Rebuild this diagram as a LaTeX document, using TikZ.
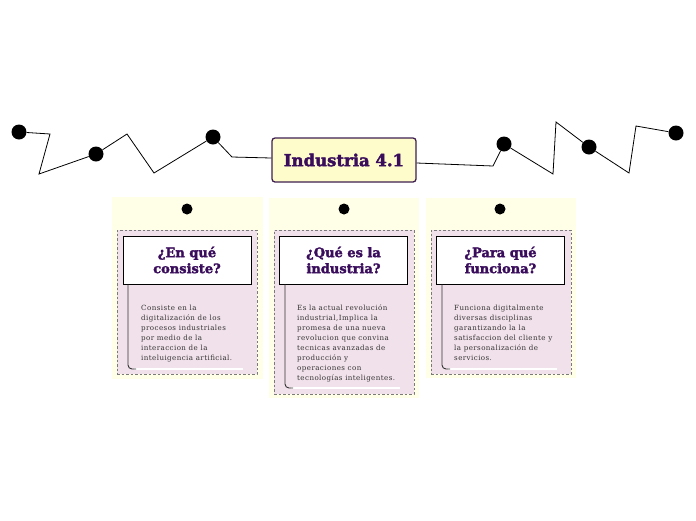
\documentclass[tikz,border=0pt]{standalone}
\usepackage{fontspec}
\setmainfont{DejaVu Serif}[LetterSpace=6]
\newfontfamily\titlefont{DejaVu Serif}[BoldFeatures={FakeBold=2.2}]
\definecolor{bgyellow}{HTML}{FFFEE6}
\definecolor{mainfill}{HTML}{FFFCCC}
\definecolor{purpleline}{HTML}{3E1F50}
\definecolor{titlepurple}{HTML}{3A0D5C}
\definecolor{pinkc}{HTML}{F1E1EA}
\definecolor{bodygray}{HTML}{333333}
\definecolor{dashgray}{HTML}{7A7A7A}
\begin{document}
\begin{tikzpicture}[x=1pt,y=-1pt,
  bigdot/.style={circle,fill=black,inner sep=0pt,minimum size=15pt},
  smalldot/.style={circle,fill=black,inner sep=0pt,minimum size=11pt},
  link/.style={draw=black,line width=0.8pt},
  mainbox/.style={draw=purpleline,fill=mainfill,line width=1.3pt,rounded corners=3pt,minimum width=144pt,minimum height=44pt,inner sep=0pt,font=\titlefont\bfseries\fontsize{16.5}{18}\selectfont,text=titlepurple},
  colbg/.style={fill=bgyellow,draw=none,inner sep=0pt},
  pinkbox/.style={fill=pinkc,draw=dashgray,dash pattern=on 2.5pt off 2pt,line width=0.6pt,inner sep=0pt},
  titlebox/.style={draw=black,fill=white,line width=0.9pt,minimum width=128pt,minimum height=48pt,inner sep=0pt,align=center,font=\titlefont\bfseries\fontsize{13}{16}\selectfont,text=titlepurple},
  bodytext/.style={anchor=north west,align=left,inner sep=0pt,font=\fontsize{7.1}{9.9}\selectfont,text=bodygray},
  bracket/.style={draw=bodygray,line width=0.9pt,rounded corners=4pt},
  whiteline/.style={draw=white,line width=1.3pt}
]
\useasboundingbox (0,0) rectangle (696,520);
\fill[white] (0,0) rectangle (696,520);

% central node
\node[mainbox] (main) at (344,160) {Industria 4.1};

% left chain
\node[bigdot] (d1) at (19,132) {};
\node[bigdot] (d2) at (96,154) {};
\node[bigdot] (d3) at (213,137) {};
\draw[link] (d1) -- (50,134) -- (39,174) -- (d2);
\draw[link] (d2) -- (127,134) -- (154,173) -- (d3);
\draw[link] (d3) -- (232,157) -- (main.west |- 0,158);

% right chain
\node[bigdot] (d4) at (504,144) {};
\node[bigdot] (d5) at (589,147) {};
\node[bigdot] (d6) at (676,133) {};
\draw[link] (main.east |- 0,163) -- (493,166) -- (d4);
\draw[link] (d4) -- (553,174) -- (556,122) -- (d5);
\draw[link] (d5) -- (629,173) -- (636,126) -- (d6);

% column backgrounds
\node[colbg,minimum width=151pt,minimum height=182pt] (bgA) at (187,288) {};
\node[colbg,minimum width=150pt,minimum height=200pt] (bgB) at (344,298) {};
\node[colbg,minimum width=150pt,minimum height=180pt] (bgC) at (501,288) {};

\node[smalldot] (tA) at (187,209) {};
\node[smalldot] (tB) at (344,209) {};
\node[smalldot] (tC) at (500,209) {};

% pink boxes
\node[pinkbox,minimum width=140pt,minimum height=144pt] (pA) at (187,302) {};
\node[pinkbox,minimum width=140pt,minimum height=164pt] (pB) at (344,312) {};
\node[pinkbox,minimum width=140pt,minimum height=144pt] (pC) at (501,302) {};

% title boxes
\node[titlebox] (hA) at (187,260) {¿En qué\\consiste?};
\node[titlebox] (hB) at (343.5,260) {¿Qué es la\\industria?};
\node[titlebox] (hC) at (500.5,260) {¿Para qué\\funciona?};

% brackets
\coordinate (bA) at (128,369);
\coordinate (bB) at (285,388);
\coordinate (bC) at (442,369);
\draw[whiteline] (134,369) -- (243,369);
\draw[whiteline] (291,388) -- (400,388);
\draw[whiteline] (448,369) -- (557,369);
\draw[bracket] (hA.south -| bA) -- (bA) -- (136,369);
\draw[bracket] (hB.south -| bB) -- (bB) -- (293,388);
\draw[bracket] (hC.south -| bC) -- (bC) -- (450,369);

% body texts
\node[bodytext] (xA) at (141,305) {Consiste en la\\digitalización de los\\procesos industriales\\por medio de la\\interaccion de la\\inteluigencia artificial.};
\node[bodytext] (xB) at (297,305) {Es la actual revolución\\industrial,Implica la\\promesa de una nueva\\revolucion que convina\\tecnicas avanzadas de\\producción y\\operaciones con\\tecnologías inteligentes.};
\node[bodytext] (xC) at (454,305) {Funciona digitalmente\\diversas disciplinas\\garantizando la la\\satisfaccion del cliente y\\la personalización de\\servicios.};
\end{tikzpicture}
\end{document}
